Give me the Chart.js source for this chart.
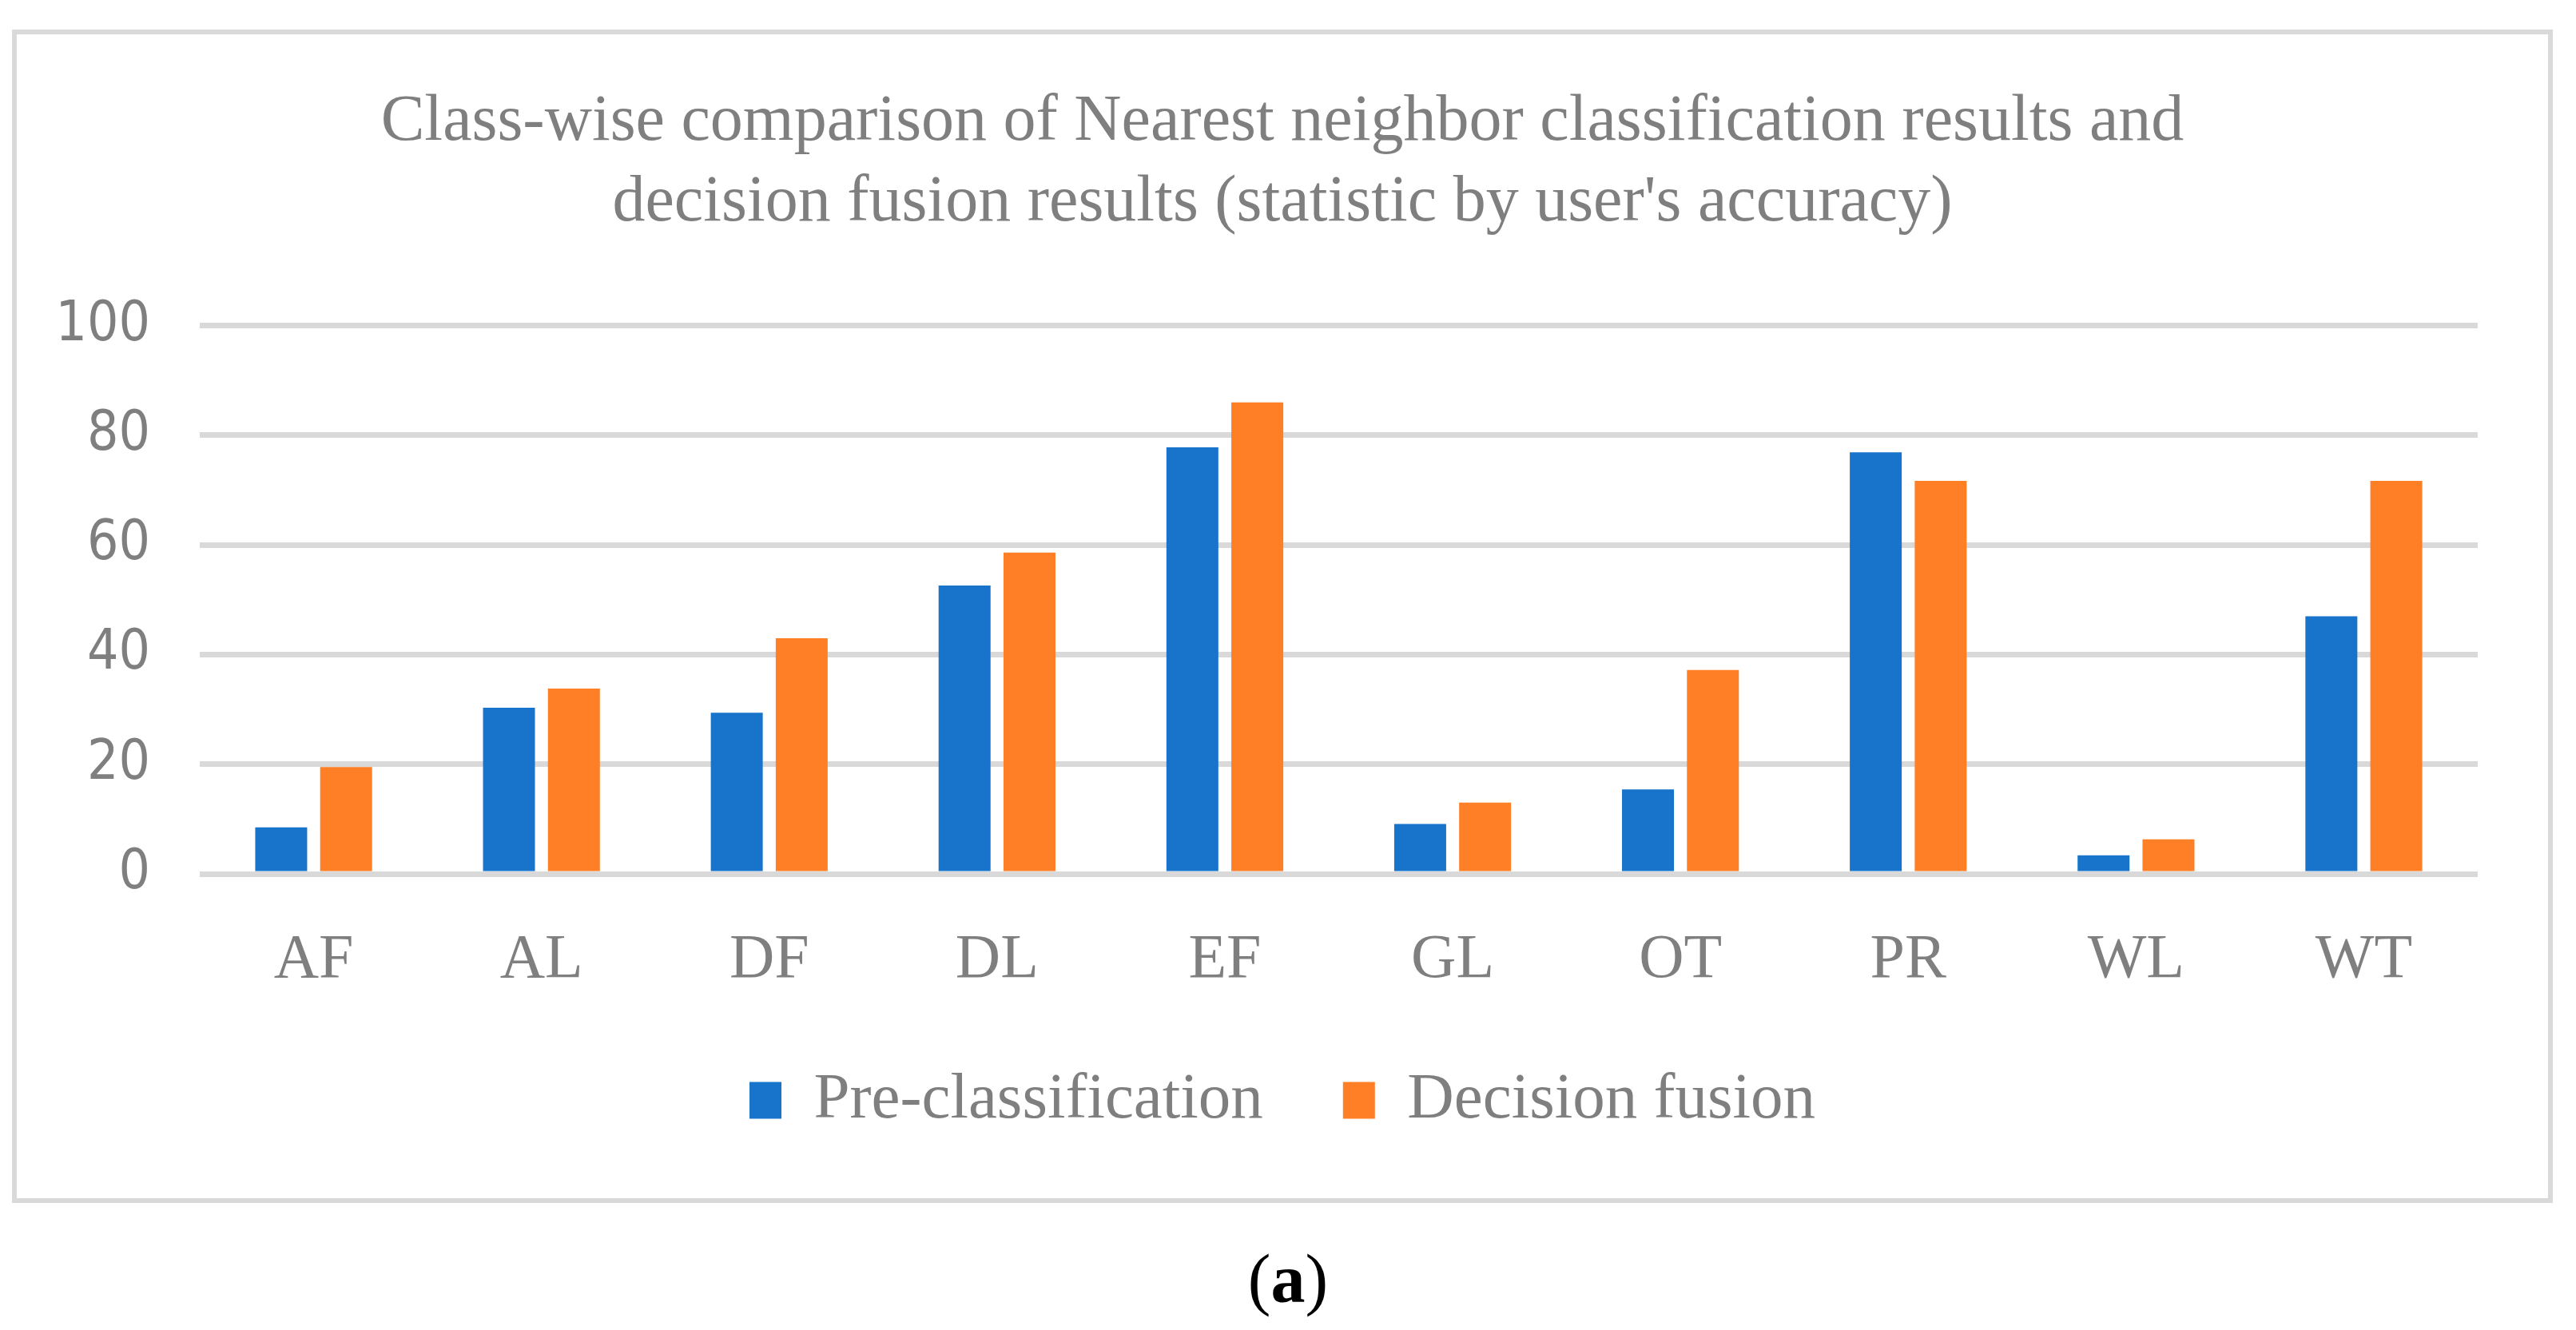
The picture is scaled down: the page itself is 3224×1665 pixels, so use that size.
<!DOCTYPE html>
<html>
<head>
<meta charset="utf-8">
<script src="https://cdn.jsdelivr.net/npm/chart.js@4.4.0/dist/chart.umd.min.js"></script>
<style>
    html, body { margin: 0; background: #fff; }
    #frame {
        position: absolute; left: 15px; top: 37px;
        width: 3168px; height: 1457px;
        border: 6px solid #d9d9d9;
    }
    #frame canvas { display: block; }
    #caption {
        position: absolute; left: 0; top: 1551px; width: 3224px;
        text-align: center; line-height: 86px;
        font: 86px "Liberation Serif", serif; color: #000;
    }
</style>
</head>
<body>
<div id="frame"><canvas id="chart"></canvas></div>
<div id="caption">(<b>a</b>)</div>

<script>
/* ── Data ─────────────────────────────────────────────────────────────── */
const classes        = ["AF", "AL", "DF", "DL", "EF", "GL", "OT", "PR", "WL", "WT"];
const preClass       = [8.5, 30.3, 29.4, 52.6, 77.8, 9.1, 15.4, 76.9, 3.4, 47.0];
const decisionFusion = [19.5, 33.8, 43.0, 58.6, 86.0, 13.0, 37.2, 71.7, 6.3, 71.7];
const yTicks         = [0, 20, 40, 60, 80, 100];
const seriesNames    = ["Pre-classification", "Decision fusion"];
const titleLines     = [
    "Class-wise comparison of Nearest neighbor classification results and",
    "decision fusion results (statistic by user's accuracy)"
];

// ── Style ────────────────────────────────────────────────────────────────
const GREY   = "#7f7f7f";
const GRID   = "#d9d9d9";
const BLUE   = "#1874cb";
const ORANGE = "#ff7f27";
const SERIF  = "'Liberation Serif', 'Times New Roman', serif";
const SANS   = "'DejaVu Sans Condensed', 'Liberation Sans Narrow', 'DejaVu Sans', sans-serif";

// ── Chart ────────────────────────────────────────────────────────────────
const ctx = document.getElementById("chart");
ctx.width  = 3168;
ctx.height = 1457;

new Chart(ctx, {
    type: "bar",
    data: {
        labels: classes,
        datasets: [
            { label: seriesNames[0], data: preClass,       backgroundColor: BLUE },
            { label: seriesNames[1], data: decisionFusion, backgroundColor: ORANGE },
        ],
    },
    options: {
        responsive: false,
        animation: false,
        devicePixelRatio: 1,
        datasets: { bar: { barPercentage: 0.8, categoryPercentage: 0.57 } },
        layout: { padding: { left: 0, right: 0, top: 0, bottom: 72 } },
        scales: {
            x: {
                grid:   { display: false, drawTicks: false },
                border: { display: false },
                ticks:  { color: GREY, font: { family: SERIF, size: 78, lineHeight: 1.2 }, padding: 62 },
                afterFit: axis => { axis.height = 143; },
            },
            y: {
                min: 0, max: 100,
                afterBuildTicks: axis => { axis.ticks = yTicks.map(v => ({ value: v })); },
                grid:   { color: GRID, lineWidth: 7, drawTicks: false },
                border: { display: false },
                ticks:  { color: GREY, font: { family: SANS, size: 69 }, padding: 62 },
                afterFit: axis => { axis.width = 229; },
            },
            // empty right margin so the title and legend stay centred on the frame
            yRight: {
                position: "right",
                grid:   { display: false, drawTicks: false },
                border: { display: false },
                ticks:  { display: false },
                afterFit: axis => { axis.width = 88; },
            },
        },
        plugins: {
            title: {
                display: true,
                text: titleLines,
                color: GREY,
                font: { family: SERIF, size: 82, weight: "normal", lineHeight: 1.23 },
                padding: { top: 60, bottom: 103 },
            },
            legend: {
                position: "bottom",
                labels: {
                    color: GREY,
                    font: { family: SERIF, size: 81 },
                    boxWidth: 40, boxHeight: 46,
                    padding: 100,
                },
            },
            tooltip: { enabled: false },
        },
    },
});
</script>
</body>
</html>
